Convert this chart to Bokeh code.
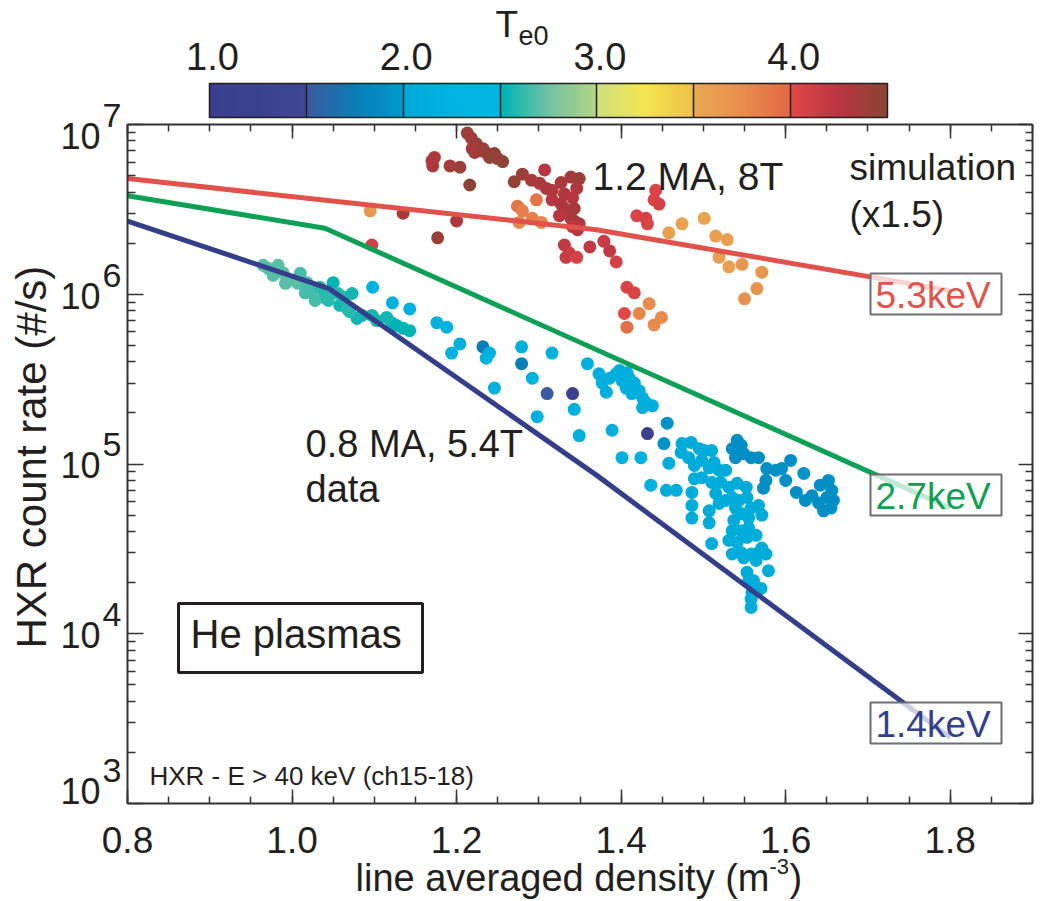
import math
from bokeh.plotting import figure
from bokeh.models import (Range1d, FixedTicker, LinearAxis, LogAxis, Label, BoxAnnotation,
                          ColorBar, LinearColorMapper, CustomJSTickFormatter, ColumnDataSource)
from bokeh.transform import transform
from bokeh.embed import file_html
from bokeh.resources import INLINE

# ---------------------------------------------------------------- data
# 0.8 MA, 5.4 T discharges: line averaged density, HXR count rate (#/s), central Te (keV)
ne_08ma = [0.965, 0.971, 0.983, 0.977, 0.989, 0.998, 1.010, 1.007, 1.018, 1.024, 1.034, 1.038,
           1.044, 1.050, 1.046, 1.056, 1.058, 1.064, 1.073, 1.067, 1.079, 1.085, 1.097, 1.098,
           1.103, 1.115, 1.121, 1.127, 1.135, 1.143, 1.122, 1.143, 0.992, 1.016, 1.028, 1.070,
           1.176, 1.188, 1.204, 1.194, 1.232, 1.240, 1.236, 1.279, 1.279, 1.292, 1.316, 1.359,
           1.246, 1.310, 1.341, 1.298, 1.343, 1.349, 1.389, 1.432, 1.401, 1.424, 1.452, 1.456,
           1.458, 1.436, 1.455, 1.467,
           1.373, 1.377, 1.386, 1.394, 1.401, 1.410, 1.416, 1.422, 1.426, 1.430, 1.438, 1.426,
           1.382, 1.406, 1.413, 1.398, 1.407,
           1.474, 1.485, 1.473, 1.482, 1.495, 1.501, 1.510, 1.489, 1.498, 1.507, 1.513, 1.519,
           1.489, 1.498, 1.510, 1.527, 1.521, 1.515, 1.531, 1.541, 1.552, 1.519, 1.527, 1.535,
           1.543, 1.553, 1.486, 1.486, 1.486, 1.507, 1.507, 1.539, 1.547, 1.558, 1.567, 1.571,
           1.555, 1.537, 1.535, 1.546, 1.555, 1.564, 1.531, 1.541, 1.553, 1.510, 1.535, 1.546,
           1.558, 1.549, 1.567, 1.576, 1.571, 1.564, 1.579, 1.553, 1.555, 1.561, 1.570, 1.559,
           1.558, 1.558,
           1.541, 1.546, 1.535, 1.539, 1.549, 1.558, 1.567, 1.577, 1.588, 1.595, 1.606, 1.600,
           1.576, 1.573, 1.613, 1.622, 1.624, 1.632, 1.642, 1.652, 1.656, 1.650, 1.658, 1.646,
           1.640, 1.655]
hxr_08ma = [1.48e6, 1.42e6, 1.48e6, 1.29e6, 1.34e6, 1.21e6, 1.33e6, 1.16e6, 1.17e6, 1.05e6, 1.10e6, 9.6e5,
            9.2e5, 1.17e6, 1.02e6, 1.01e6, 8.6e5, 9.6e5, 1.01e6, 8.2e5, 7.2e5, 7.5e5, 7.5e5, 1.10e6,
            7.0e5, 7.3e5, 6.8e5, 6.55e5, 6.3e5, 6.1e5, 8.9e5, 8.2e5, 1.16e6, 1.02e6, 9.2e5, 7.9e5,
            6.8e5, 6.4e5, 5.1e5, 4.5e5, 4.9e5, 4.5e5, 4.2e5, 4.9e5, 3.9e5, 3.2e5, 4.5e5, 3.9e5,
            2.8e5, 2.6e5, 2.6e5, 1.9e5, 2.1e5, 1.47e5, 1.58e5, 1.51e5, 1.09e5, 1.09e5, 1.32e5, 1.74e5,
            1.01e5, 7.5e4, 7.0e4, 7.0e4,
            3.4e5, 3.0e5, 3.2e5, 3.4e5, 3.1e5, 3.2e5, 3.0e5, 2.7e5, 2.45e5, 2.3e5, 2.2e5, 2.15e5,
            2.65e5, 2.8e5, 2.6e5, 3.55e5, 3.45e5,
            1.32e5, 1.34e5, 1.17e5, 1.09e5, 1.23e5, 1.20e5, 1.20e5, 9.8e4, 1.05e5, 9.5e4, 1.02e5, 9.2e4,
            8.2e4, 8.3e4, 7.8e4, 9.2e4, 7.8e4, 6.7e4, 7.3e4, 7.7e4, 7.3e4, 5.85e4, 6.1e4, 6.35e4,
            6.1e4, 6.35e4, 6.8e4, 5.7e4, 4.8e4, 5.3e4, 4.5e4, 5.5e4, 5.1e4, 5.5e4, 5.7e4, 5.0e4,
            4.8e4, 4.65e4, 4.05e4, 4.05e4, 4.2e4, 3.8e4, 3.55e4, 3.45e4, 3.7e4, 3.4e4, 2.95e4, 3.0e4,
            2.95e4, 2.8e4, 3.0e4, 2.95e4, 3.2e4, 2.7e4, 2.35e4, 2.3e4, 2.05e4, 2.05e4, 1.85e4, 1.75e4,
            1.6e4, 1.43e4,
            1.38e5, 1.29e5, 1.23e5, 1.09e5, 1.15e5, 1.09e5, 1.09e5, 9.4e4, 9.2e4, 9.4e4, 1.05e5, 8.0e4,
            8.0e4, 7.2e4, 6.8e4, 8.8e4, 6.1e4, 6.5e4, 7.5e4, 8.0e4, 7.0e4, 6.35e4, 6.1e4, 5.3e4,
            5.9e4, 5.5e4]
te_08ma = [2.70, 2.70, 2.70, 2.70, 2.70, 2.70, 2.65, 2.70, 2.65, 2.65, 2.60, 2.60,
           2.60, 2.50, 2.60, 2.60, 2.55, 2.60, 2.55, 2.60, 2.55, 2.55, 2.55, 2.25,
           2.55, 2.55, 2.55, 2.50, 2.50, 2.50, 2.20, 2.20, 2.70, 2.65, 2.65, 2.60,
           2.20, 2.20, 2.20, 2.20, 1.75, 2.20, 2.20, 2.20, 1.75, 2.20, 2.20, 2.20,
           2.20, 1.50, 1.20, 2.20, 2.20, 2.20, 2.15, 1.20, 2.20, 2.20, 1.95, 1.95,
           2.05, 2.20, 2.10, 2.10,
           2.15, 2.15, 2.15, 2.15, 2.15, 2.15, 2.15, 2.15, 2.15, 2.15, 2.15, 2.15,
           2.15, 2.15, 2.15, 2.15, 2.15,
           2.00, 2.00, 2.05, 2.05, 2.05, 2.05, 2.05, 2.05, 2.05, 2.05, 2.05, 2.05,
           2.05, 2.05, 2.05, 2.00, 2.05, 2.05, 2.05, 2.05, 2.00, 2.05, 2.05, 2.05,
           2.05, 2.05, 2.10, 2.10, 2.10, 2.05, 2.05, 2.05, 2.05, 2.05, 2.00, 2.05,
           2.05, 2.05, 2.05, 2.05, 2.05, 2.05, 2.05, 2.05, 2.05, 2.10, 2.05, 2.05,
           2.05, 2.05, 2.05, 2.05, 2.05, 2.05, 2.10, 2.05, 2.05, 2.05, 2.05, 2.05,
           2.05, 2.05,
           1.90, 1.90, 1.90, 1.90, 1.90, 1.90, 1.90, 1.90, 1.90, 1.90, 1.90, 1.90,
           1.90, 1.90, 1.90, 1.95, 1.90, 1.90, 1.90, 1.90, 1.90, 1.90, 1.90, 1.90,
           1.90, 1.90]

# 1.2 MA, 8 T discharges
ne_12ma = [1.213, 1.218, 1.224, 1.219, 1.228, 1.236, 1.246, 1.256, 1.222, 1.232, 1.240, 1.250,
           1.170, 1.173, 1.171, 1.192, 1.204, 1.216,
           1.270, 1.280, 1.291, 1.307, 1.301, 1.309, 1.316, 1.327, 1.339, 1.349, 1.346, 1.331,
           1.316, 1.327, 1.341, 1.331, 1.343, 1.325, 1.339, 1.343, 1.349, 1.341, 1.347,
           1.274, 1.280, 1.297, 1.276, 1.292, 1.303,
           1.135, 1.200, 1.177, 1.095, 1.097,
           1.331, 1.337, 1.333, 1.346, 1.362, 1.379, 1.386, 1.394,
           1.442, 1.440, 1.446, 1.419, 1.430, 1.432,
           1.458, 1.474, 1.501, 1.515, 1.529, 1.519, 1.531, 1.547, 1.571, 1.565, 1.550,
           1.407, 1.416, 1.404, 1.407, 1.422, 1.434, 1.449, 1.440]
hxr_12ma = [8.9e6, 8.3e6, 7.7e6, 7.2e6, 7.0e6, 6.8e6, 6.75e6, 6.05e6, 6.85e6, 7.2e6, 6.4e6, 6.3e6,
            6.1e6, 6.4e6, 5.7e6, 5.7e6, 5.6e6, 4.4e6,
            4.6e6, 5.1e6, 4.7e6, 5.4e6, 4.5e6, 4.2e6, 4.1e6, 4.55e6, 4.9e6, 4.8e6, 4.2e6, 3.9e6,
            3.6e6, 3.4e6, 3.7e6, 3.2e6, 3.2e6, 2.9e6, 2.8e6, 2.7e6, 2.6e6, 2.5e6, 2.4e6,
            3.3e6, 3.1e6, 3.6e6, 2.65e6, 2.8e6, 2.65e6,
            3.0e6, 2.7e6, 2.15e6, 3.1e6, 1.95e6,
            1.95e6, 1.75e6, 1.65e6, 1.65e6, 1.9e6, 2.05e6, 1.8e6, 1.55e6,
            4.1e6, 3.6e6, 3.4e6, 2.9e6, 2.8e6, 2.6e6,
            2.3e6, 2.6e6, 2.8e6, 2.2e6, 2.1e6, 1.65e6, 1.45e6, 1.5e6, 1.35e6, 1.08e6, 9.4e5,
            1.1e6, 1.02e6, 7.7e5, 6.4e5, 7.7e5, 8.8e5, 7.3e5, 6.6e5]
te_12ma = [4.40, 4.35, 4.45, 4.30, 4.40, 4.45, 4.45, 4.50, 4.35, 4.40, 4.45, 4.45,
           4.25, 4.30, 4.30, 4.35, 4.40, 4.50,
           4.45, 4.40, 4.35, 4.25, 4.35, 4.30, 4.30, 4.35, 4.35, 4.40, 4.30, 4.30,
           4.25, 4.30, 4.25, 4.30, 4.35, 4.25, 4.30, 4.35, 4.30, 4.20, 4.25,
           3.90, 3.85, 3.90, 3.80, 3.85, 3.80,
           4.35, 4.30, 4.40, 3.65, 4.10,
           4.20, 4.15, 4.15, 4.10, 4.20, 4.15, 4.20, 4.10,
           4.05, 4.05, 4.10, 4.05, 4.10, 4.05,
           3.60, 3.55, 3.55, 3.60, 3.60, 3.60, 3.60, 3.65, 3.65, 3.70, 3.70,
           4.05, 4.05, 4.00, 3.95, 3.80, 3.75, 3.75, 3.75]

# simulated count rates (x1.5) for three central temperatures
sim_ne_53 = [0.80, 1.37, 1.80]
sim_hxr_53 = [4.8e6, 2.4e6, 1.05e6]
sim_ne_27 = [0.80, 1.04, 1.80]
sim_hxr_27 = [3.8e6, 2.45e6, 5.5e4]
sim_ne_14 = [0.80, 1.045, 1.37, 1.80]
sim_hxr_14 = [2.7e6, 1.08e6, 8.6e4, 2.45e3]

x_ticks = [0.8, 1.0, 1.2, 1.4, 1.6, 1.8]
x_tick_labels = ["0.8", "1.0", "1.2", "1.4", "1.6", "1.8"]
y_decades = [3, 4, 5, 6, 7]
te_ticks = [1.0, 2.0, 3.0, 4.0]
te_tick_labels = ["1.0", "2.0", "3.0", "4.0"]
te_bands = [1.5, 2.0, 2.5, 3.0, 3.5, 4.0]

# ---------------------------------------------------------------- style
FONT = "Liberation Sans"
INK = "#231f20"
AXIS = "#333333"
W, H = 1043, 901
FL, FR, FT, FB = 127, 1032, 124, 803          # axes box in canvas pixels
X_LO, X_HI = 0.8, 1.9
LOG_LO, LOG_HI = 3, 7
RED, GREEN, BLUE = "#e1534a", "#0ea155", "#343f8c"

# the data ranges are stretched to the whole canvas so that the axes box sits at FL..FR, FT..FB
_dx = (X_HI - X_LO) / (FR - FL)
_dl = (LOG_HI - LOG_LO) / (FB - FT)
CX0, CX1 = X_LO - FL * _dx, X_HI + (W - FR) * _dx
CL0, CL1 = LOG_LO - (H - FB) * _dl, LOG_HI + FT * _dl

# colour table: seven 0.5 keV bands, each a short gradient
BANDS = [("#3a3f8d", "#3a4290", "#3d4893"),
         ("#3b5ba0", "#0a7db6", "#0098cd"),
         ("#00aad9", "#00b3e0", "#00b7e2"),
         ("#00b4b6", "#72c2a3", "#b2d488"),
         ("#cfe07a", "#f4e54f", "#efc147"),
         ("#e9a851", "#e88d4c", "#e36844"),
         ("#e04747", "#b93540", "#8b4535")]


def _rgb(h):
    return [int(h[i:i + 2], 16) for i in (1, 3, 5)]


def _mix(a, b, t):
    a, b = _rgb(a), _rgb(b)
    return "#%02x%02x%02x" % tuple(round(a[i] + (b[i] - a[i]) * t) for i in range(3))


palette = []
for c0, c1, c2 in BANDS:
    n = 24
    for i in range(n):
        t = i / (n - 1)
        palette.append(_mix(c0, c1, t * 2) if t <= 0.5 else _mix(c1, c2, (t - 0.5) * 2))

te_mapper = LinearColorMapper(palette=palette, low=1.0, high=4.5)


def to_data(px, py):
    """canvas pixel -> data coordinates (used to place annotations)"""
    return CX0 + px * _dx, 10 ** (CL1 - py * _dl)


# ---------------------------------------------------------------- figure
p = figure(width=W, height=H, x_range=Range1d(CX0, CX1), y_range=Range1d(10 ** CL0, 10 ** CL1),
           y_axis_type="log", x_axis_location=None, y_axis_location=None,
           output_backend="svg", toolbar_location=None, min_border=0)
p.grid.visible = False
p.background_fill_color = "white"
p.border_fill_color = "white"
p.outline_line_color = None

blank = CustomJSTickFormatter(code="return ''")
x_ticker = FixedTicker(ticks=x_ticks, minor_ticks=[round(0.8 + 0.05 * i, 2) for i in range(23)])
y_ticker = FixedTicker(ticks=[10 ** d for d in y_decades],
                       minor_ticks=[m * 10 ** d for d in y_decades[:-1] for m in range(2, 10)])


def style_axis(ax, tick_in, minor_in):
    ax.formatter = blank
    ax.axis_line_color = AXIS
    ax.axis_line_width = 2
    ax.major_tick_line_color = AXIS
    ax.minor_tick_line_color = AXIS
    ax.major_tick_line_width = 1.5
    ax.minor_tick_line_width = 1.5
    ax.major_tick_out = 0
    ax.minor_tick_out = 0
    ax.major_tick_in = tick_in
    ax.minor_tick_in = minor_in
    ax.major_label_standoff = 0
    return ax


p.add_layout(style_axis(LinearAxis(ticker=x_ticker, fixed_location=10 ** LOG_LO, bounds=(X_LO, X_HI)), 14, 7), "below")
p.add_layout(style_axis(LinearAxis(ticker=x_ticker, fixed_location=10 ** LOG_HI, bounds=(X_LO, X_HI)), 14, 7), "above")
p.add_layout(style_axis(LogAxis(ticker=y_ticker, fixed_location=X_LO, bounds=(10 ** LOG_LO, 10 ** LOG_HI)), 16, 8), "left")
p.add_layout(style_axis(LogAxis(ticker=y_ticker, fixed_location=X_HI, bounds=(10 ** LOG_LO, 10 ** LOG_HI)), 14, 7), "right")

# data points
src_08 = ColumnDataSource(dict(ne=ne_08ma, hxr=hxr_08ma, te=te_08ma))
src_12 = ColumnDataSource(dict(ne=ne_12ma, hxr=hxr_12ma, te=te_12ma))
for src in (src_08, src_12):
    p.scatter("ne", "hxr", source=src, size=13, marker="circle",
              fill_color=transform("te", te_mapper), line_color=None)

# simulation curves
p.line(sim_ne_53, sim_hxr_53, line_color=RED, line_width=5)
p.line(sim_ne_27, sim_hxr_27, line_color=GREEN, line_width=5)
p.line(sim_ne_14, sim_hxr_14, line_color=BLUE, line_width=5)

BASE_SHIFT = 0.36   # label anchor sits this fraction of the font size above the baseline


def text(s, px, py, size, color=INK, align="left", angle=0.0, shift=True):
    x, y = to_data(px, py - (BASE_SHIFT * size if shift else 0))
    p.add_layout(Label(x=x, y=y, text=s, text_font=FONT, text_font_size=f"{size}px",
                       text_color=color, text_align=align, text_baseline="alphabetic", angle=angle))


def box(left, top, right, bottom, line_color, line_width, fill_alpha):
    x0, y0 = to_data(left, top)
    x1, y1 = to_data(right, bottom)
    p.add_layout(BoxAnnotation(left=x0, right=x1, top=y0, bottom=y1, fill_color="white",
                               fill_alpha=fill_alpha, line_color=line_color, line_width=line_width,
                               line_alpha=1.0))


# temperature labels for the simulation curves
for s, color, top in (("5.3keV", RED, 273), ("2.7keV", GREEN, 474), ("1.4keV", BLUE, 702)):
    box(870, top, 1001, top + 41, "#6d6e71", 2, 0.75)
    text(s, 875, top + 35, 37, color=color)

# annotations
text("1.2 MA, 8T", 592, 190, 39)
text("simulation", 849, 180, 37)
text("(x1.5)", 849, 227, 37)
text("0.8 MA, 5.4T", 305, 457, 38)
text("data", 305, 502, 38)
box(178, 603, 422, 672, "#231f20", 3, 0.0)
text("He plasmas", 190, 648, 40)
text("HXR - E > 40 keV (ch15-18)", 149, 785, 26)

# tick labels
for v, lab in zip(x_ticks, x_tick_labels):
    px = FL + (v - X_LO) / _dx
    text(lab, px, 853, 37, align="center")
decade_baseline = {7: 148, 6: 308, 5: 477, 4: 647, 3: 803}
for d in y_decades:
    b = decade_baseline[d]
    text("10", 100, b, 36, align="right")
    text(str(d), 102, b - 21, 34)

# axis titles
text("line averaged density (m", 355, 891, 38)
text("-3", 769, 874, 22)
text(")", 789, 891, 38)
text("HXR count rate (#/s)", 31, 648, 42, angle=math.pi / 2, shift=False)

# colour bar for Te0
CB_L, CB_R, CB_T, CB_B = 209, 887, 83, 117
cb = ColorBar(color_mapper=te_mapper, orientation="horizontal", width=CB_R - CB_L, height=CB_B - CB_T,
              location=(CB_L, H - CB_B), padding=0, margin=0, title=None,
              ticker=FixedTicker(ticks=te_bands, minor_ticks=[]), formatter=blank,
              major_tick_in=CB_B - CB_T, major_tick_out=0, major_tick_line_color=INK,
              major_tick_line_width=1.5, minor_tick_line_color=None, label_standoff=0,
              bar_line_color=INK, bar_line_width=1.5, background_fill_alpha=0,
              border_line_color=None)
p.add_layout(cb)
for v, lab in zip(te_ticks, te_tick_labels):
    px = CB_L + (v - 1.0) / 3.5 * (CB_R - CB_L) + 3
    text(lab, px, 70, 38, align="center")
text("T", 495, 37, 37)
text("e0", 518, 45, 27)

open("out.html", "w").write(file_html(p, INLINE))
